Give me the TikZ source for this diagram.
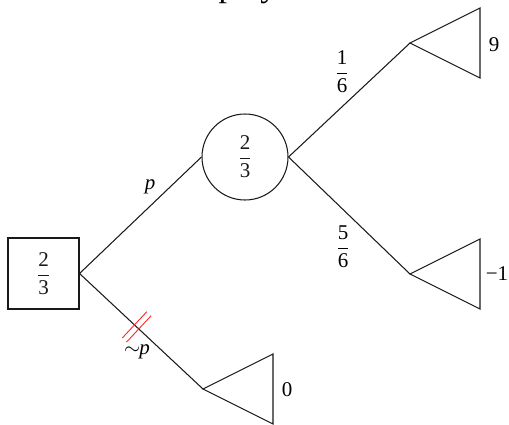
\documentclass[tikz,border=0pt]{standalone}
\usepackage{fontspec}
\setmainfont{Liberation Serif}
\usetikzlibrary{calc}
\newcommand{\fr}[2]{$\displaystyle\frac{\mbox{#1}}{\mbox{#2}}$}
\tikzset{
  every node/.style={font=\fontsize{21}{25}\selectfont, inner sep=0pt},
  edge/.style={line width=1.05pt, black!90},
  decbox/.style={draw, line width=1.05pt, black!90, minimum size=71pt},
  chance/.style={draw, circle, line width=1.05pt, black!90, minimum size=86pt},
  leaf/.style={line width=1.05pt, black!90, line join=miter},
  hash/.style={red!85!white, line width=0.9pt},
  lbl/.style={}
}
\begin{document}
\begin{tikzpicture}[x=1pt,y=-1pt]
\useasboundingbox (0,0) rectangle (509,424);
% partially visible title
\node[anchor=base, font=\fontsize{34}{40}\selectfont] (title) at (248,-4) {play};
% decision and chance nodes
\node[decbox] (sq) at (43.5,273.5) {\fr{2}{3}};
\node[chance] (ch) at (245,157) {\fr{2}{3}};
% terminal triangles (apexes)
\coordinate (t1) at (410,43);
\coordinate (t2) at (410,274);
\coordinate (t0) at (203,389);
\draw[leaf] (t1) -- ++(70,-35) -- ++(0,70) -- cycle;
\draw[leaf] (t2) -- ++(70,-35) -- ++(0,70) -- cycle;
\draw[leaf] (t0) -- ++(70,-35) -- ++(0,70) -- cycle;
% payoffs
\node[lbl] (v9) at (494,45) {9};
\node[lbl] (vm1) at (497,274) {−1};
\node[lbl] (v0) at (287,390) {0};
% branches
\draw[edge] (sq.east) -- (ch.west);
\draw[edge] (sq.east) -- (t0)
  coordinate[pos=0.445] (h1) coordinate[pos=0.48] (h2);
\draw[edge] (ch.east) -- (t1);
\draw[edge] (ch.east) -- (t2);
% hash marks on ~p branch
\draw[hash] ($(h1)+(-12.3,13.2)$) -- ($(h1)+(12.3,-13.2)$);
\draw[hash] ($(h2)+(-12.3,13.2)$) -- ($(h2)+(12.3,-13.2)$);
% branch labels
\node[lbl] (lp) at (150,187) {\textit{p}};
\node[lbl] (lnp) at (137,352) {$\sim$\kern-1pt\textit{p}};
\node[lbl] (l16) at (342,72) {\fr{1}{6}};
\node[lbl] (l56) at (343,247) {\fr{5}{6}};
\end{tikzpicture}
\end{document}
